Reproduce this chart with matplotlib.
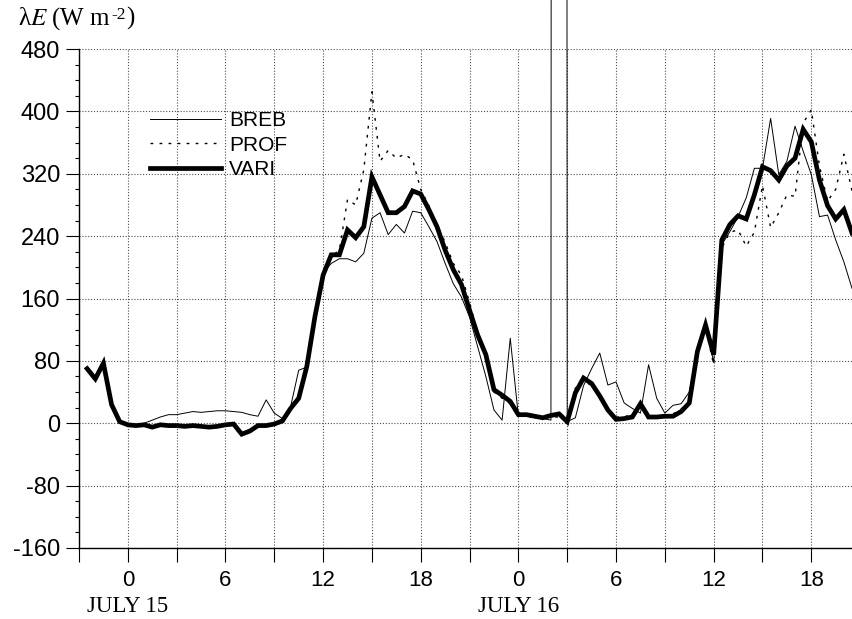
import matplotlib
matplotlib.use('Agg')
import matplotlib.pyplot as plt
import matplotlib.ticker as mt
import numpy as np

plt.rcParams['font.family'] = 'Liberation Sans'
plt.rcParams['mathtext.fontset'] = 'stix'
plt.rcParams['axes.unicode_minus'] = False

# half-hourly latent heat flux (W m-2), hours counted from 0h July 15
hours = np.arange(-2.5, 45.0, 0.5)

breb = [70, 57, 77, 24, 2,
        -2, -2, 0, 4, 8, 11, 11, 13, 15, 14, 15, 16,
        16, 15, 14, 11, 9, 30, 13, 6, 21, 68, 72, 133,
        193, 205, 211, 211, 207, 218, 263, 270, 242, 255, 244, 272,
        270, 252, 233, 205, 179, 162, 136, 98, 60, 17, 4, 109,
        9, 9, 7, 6, 4, 20000, 2, 7, 48, 70, 90, 49,
        53, 26, 19, 13, 75, 32, 13, 23, 25, 40, 93, 128,
        78, 229, 246, 265, 289, 327, 327, 391, 319, 336, 381, 349,
        319, 265, 267, 235, 207, 173]

prof = [70, 57, 77, 24, 2,
        -2, -3, -2, -5, -2, -3, -3, -4, -3, -4, -5, -4,
        -2, -1, -14, -10, -3, -3, -1, 3, 19, 32, 73, 137,
        190, 214, 222, 287, 280, 325, 425, 336, 350, 340, 345, 338,
        300, 279, 255, 232, 205, 190, 155, 115, 85, 40, 32, 25,
        10, 10, 8, 6, 8, 8, 3, 45, 55, 48, 36, 15,
        8, 8, 12, 20, 10, 8, 10, 12, 18, 28, 90, 122,
        75, 225, 245, 248, 227, 245, 305, 251, 270, 293, 291, 385,
        402, 330, 285, 300, 345, 298]

vari = [70, 57, 77, 24, 2,
        -2, -3, -2, -5, -2, -3, -3, -4, -3, -4, -5, -4,
        -2, -1, -14, -10, -3, -3, -1, 3, 19, 32, 73, 137,
        190, 216, 216, 248, 238, 252, 316, 293, 270, 270, 278, 298,
        294, 274, 252, 222, 197, 178, 145, 113, 88, 43, 36, 28,
        11, 11, 9, 7, 10, 12, 2, 39, 58, 51, 35, 17,
        5, 6, 8, 25, 8, 8, 9, 9, 15, 26, 92, 126,
        88, 235, 255, 266, 262, 293, 329, 324, 312, 330, 340, 377,
        361, 312, 279, 262, 274, 244]

tick_hours = [0, 6, 12, 18, 24, 30, 36, 42]
tick_labels = ['0', '6', '12', '18', '0', '6', '12', '18']
day_hours = [0, 24]
day_labels = ['JULY 15', 'JULY 16']

fig = plt.figure(figsize=(8.52, 6.19), dpi=100)
ax = fig.add_axes([79 / 852, 71 / 619, 773 / 852, 499 / 619])

ax.plot(hours, breb, color='black', lw=0.7, label='BREB', clip_on=False, zorder=3)
ax.plot(hours, prof, color='black', lw=1.0, ls=(0, (2, 4.5)), label='PROF', zorder=3)
ax.plot(hours, vari, color='black', lw=3.4, label='VARI', solid_joinstyle='miter', zorder=4)

ax.set_xlim(-3, 44.5)
ax.set_ylim(-160, 480)

ax.xaxis.set_major_locator(mt.FixedLocator(tick_hours))
ax.xaxis.set_major_formatter(mt.FixedFormatter(tick_labels))
ax.xaxis.set_minor_locator(mt.MultipleLocator(3))
ax.yaxis.set_major_locator(mt.MultipleLocator(80))
ax.yaxis.set_minor_locator(mt.MultipleLocator(20))

for side in ['top', 'right']:
   ax.spines[side].set_visible(False)
for side in ['left', 'bottom']:
   ax.spines[side].set_linewidth(1.0)

ax.tick_params(axis='y', which='major', direction='out', length=9.4, width=0.8, pad=4.3, labelsize=17)
ax.tick_params(axis='y', which='minor', direction='out', length=3.2, width=0.8)
ax.tick_params(axis='x', which='both', direction='out', length=9.9, width=0.8, pad=6, labelsize=16)

grid_style = dict(color='0.3', lw=0.8, ls=(0, (1, 1.6)))
ax.grid(True, axis='y', which='major', **grid_style)
ax.grid(True, axis='x', which='both', **grid_style)
ax.set_axisbelow(True)

# day names under the midnight ticks
for h, lab in zip(day_hours, day_labels):
   ax.text(h, (619 - 612 - 71) / 499, lab, transform=ax.get_xaxis_transform(), ha='center',
           va='baseline', family='Liberation Serif', fontsize=16.5)

# y axis title, with the exponent set as a small raised "-2"
serif = dict(family='Liberation Serif', ha='left', va='baseline')
title_y = 1 - 25 / 619
t1 = fig.text(18 / 852, title_y, 'λ$E$ (W m', fontsize=18, **serif)
fig.canvas.draw()
x1 = fig.transFigure.inverted().transform((t1.get_window_extent().x1, 0))[0]
t2 = fig.text(x1 + 0.5 / 852, title_y + 6 / 619, '-2', fontsize=12.5, **serif)
fig.canvas.draw()
x2 = fig.transFigure.inverted().transform((t2.get_window_extent().x1, 0))[0]
fig.text(x2, title_y, ')', fontsize=18, **serif)

ax.legend(loc='upper left', bbox_to_anchor=(150 / 852, 1 - 111 / 619), bbox_transform=fig.transFigure,
          frameon=False, fontsize=15, handlelength=3.4, handletextpad=0.4, labelspacing=0.27,
          borderpad=0, borderaxespad=0)

fig.savefig('out.png', dpi=100)
